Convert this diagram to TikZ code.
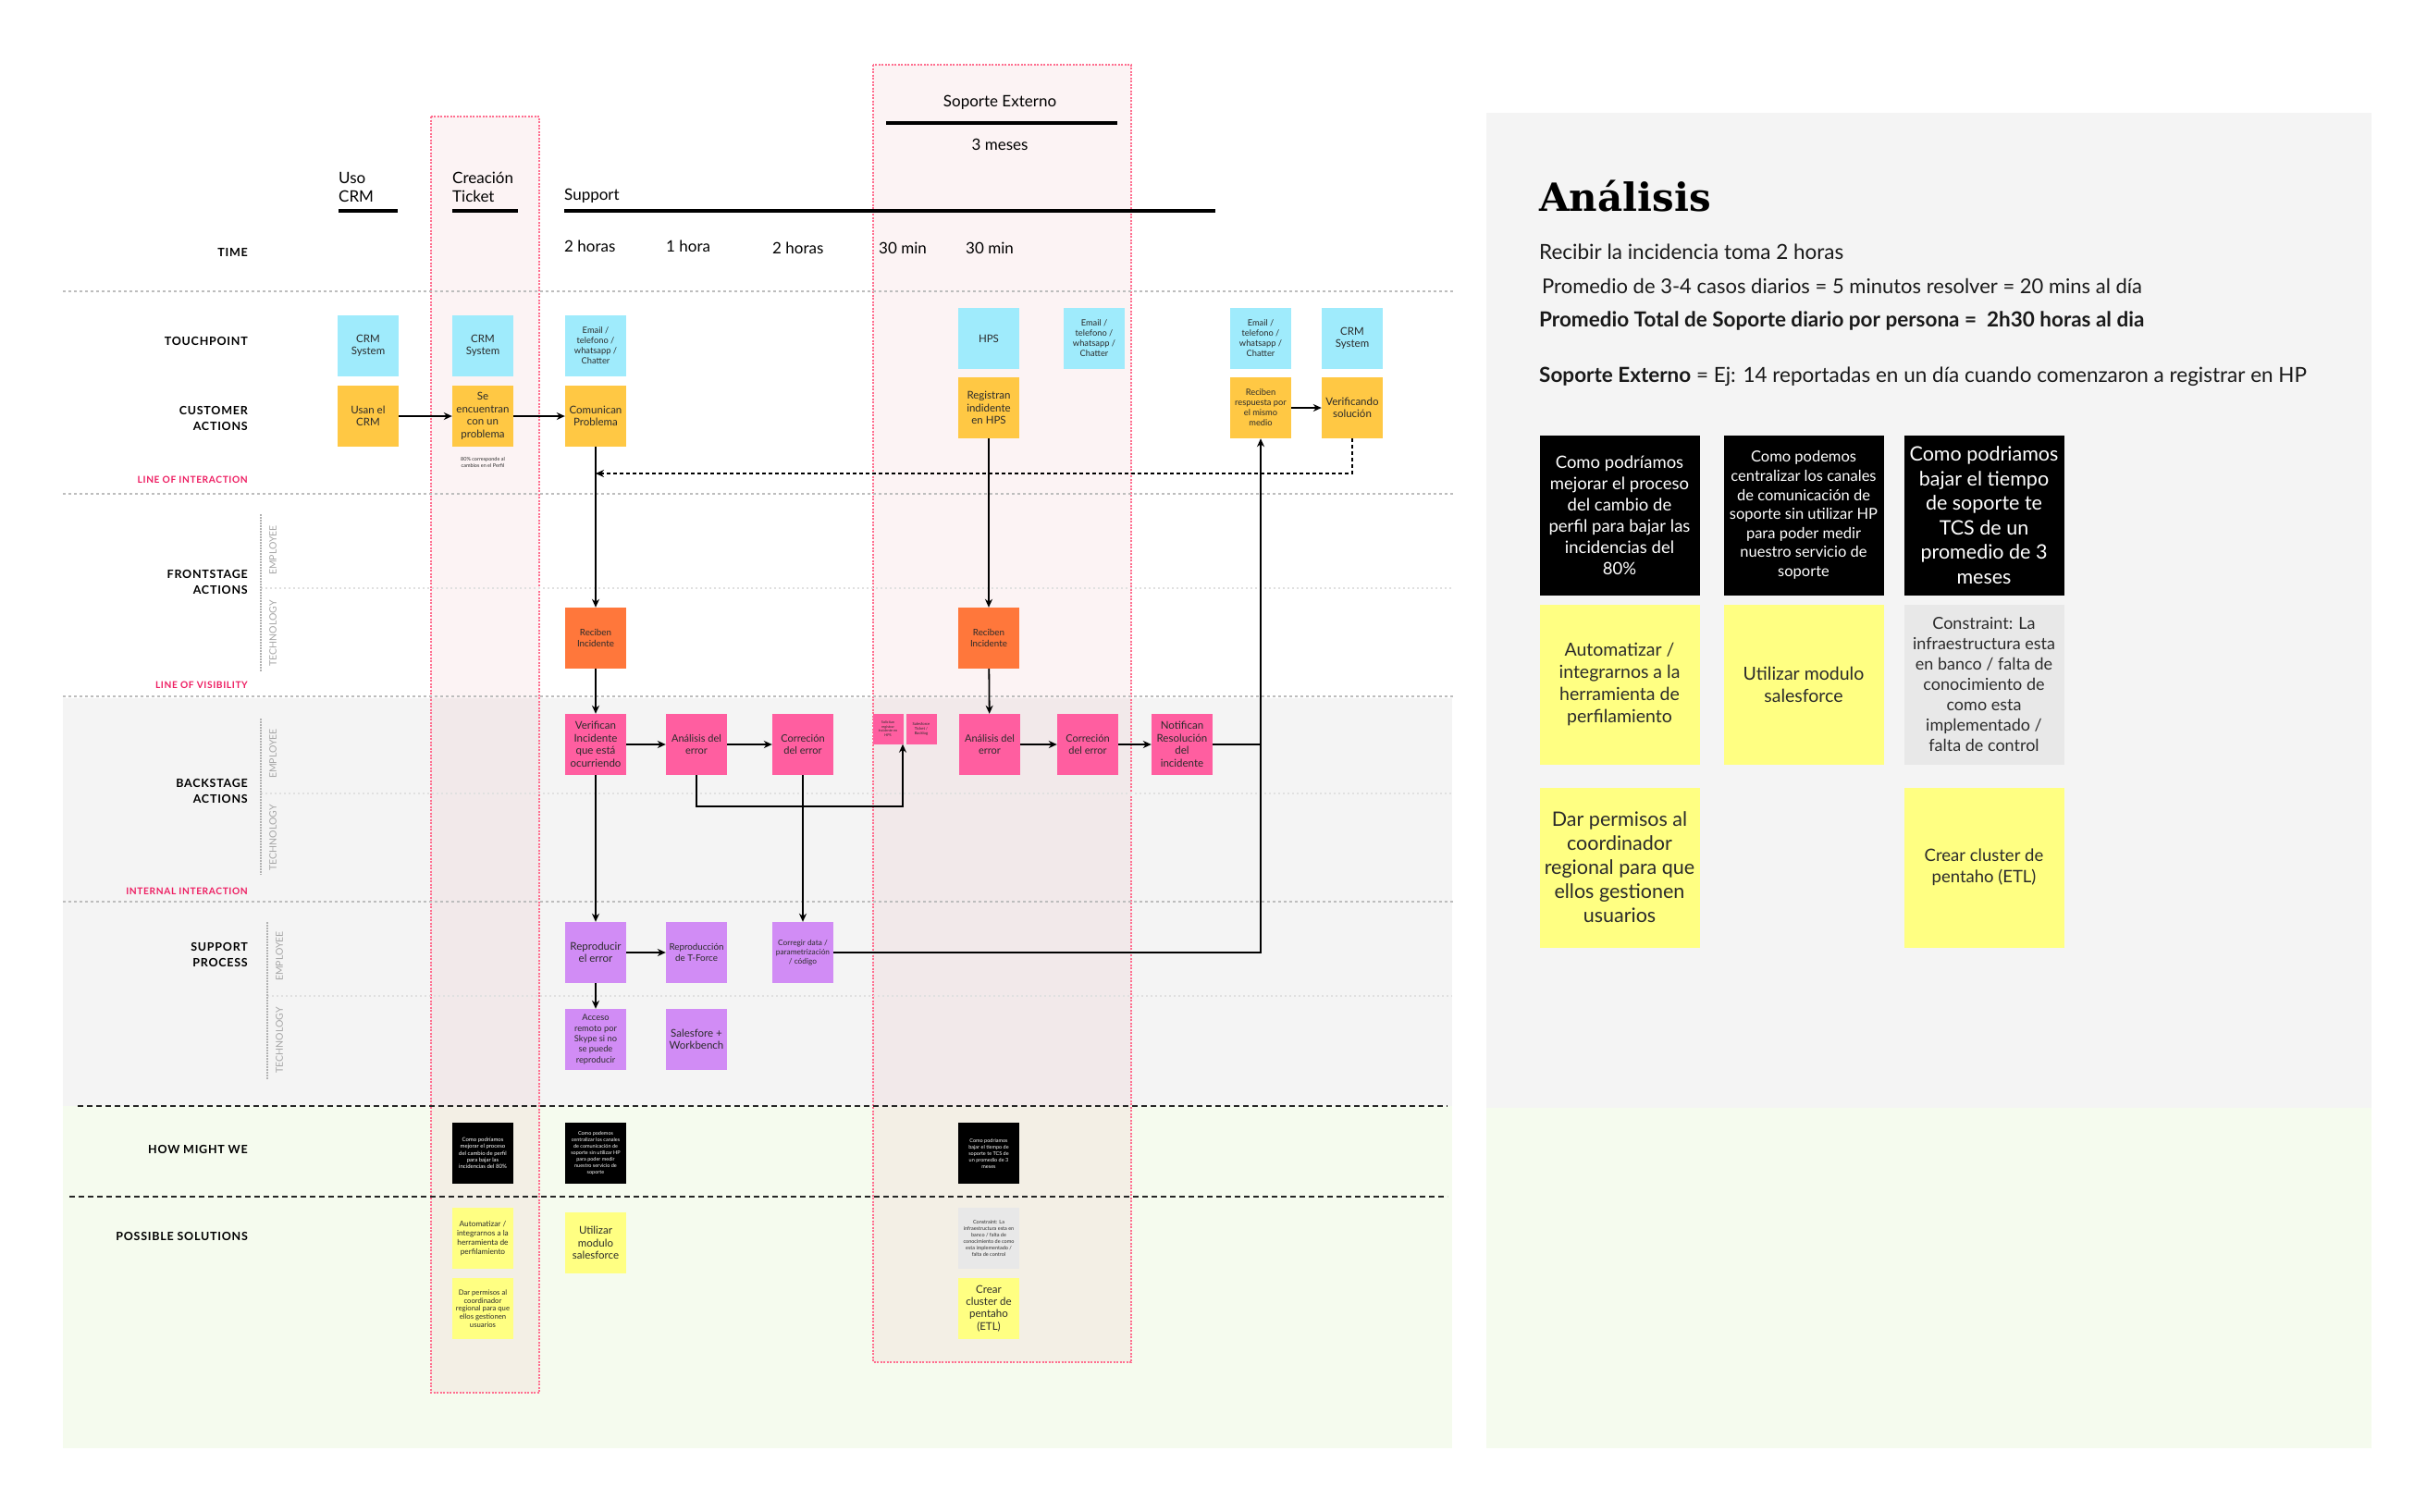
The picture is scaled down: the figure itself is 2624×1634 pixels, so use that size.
\documentclass[tikz,border=0pt]{standalone}
\usepackage{fontspec}
\setmainfont{Lato}
\newfontfamily\slabfont{DejaVu Serif}
\newfontfamily\lblfont[LetterSpace=6]{Lato}
\usetikzlibrary{arrows.meta,calc}
\definecolor{cyanc}{HTML}{9FEBFC}
\definecolor{orangec}{HTML}{FFC844}
\definecolor{redorc}{HTML}{FF773B}
\definecolor{pinkc}{HTML}{FF5EA0}
\definecolor{purpc}{HTML}{D18CF5}
\definecolor{yellc}{HTML}{FFFF82}
\definecolor{grayc}{HTML}{E8E8E8}
\definecolor{bggray}{HTML}{F4F4F4}
\definecolor{bggreen}{HTML}{F5FBEE}
\definecolor{pinkline}{HTML}{FF6E8F}
\definecolor{pinkfill}{HTML}{E8A0A8}
\definecolor{lblred}{HTML}{EE1E62}
\definecolor{txtc}{HTML}{2B2B2B}
\definecolor{lanegray}{HTML}{BDBDBD}
\newcommand\fz[2]{\fontsize{#1pt}{#2pt}\selectfont}
\tikzset{
  sticky/.style={minimum width=66pt, minimum height=66pt, inner sep=1pt, align=center, text=txtc},
  tp/.style={sticky, fill=cyanc},
  ca/.style={sticky, fill=orangec},
  fsb/.style={sticky, fill=redorc},
  bsb/.style={sticky, fill=pinkc},
  tinyb/.style={sticky, fill=pinkc, minimum width=33pt, minimum height=33pt, inner sep=0pt},
  spb/.style={sticky, fill=purpc},
  hmw/.style={sticky, fill=black, text=white},
  solb/.style={sticky, fill=yellc},
  conb/.style={sticky, fill=grayc},
  rbox/.style={minimum width=173pt, minimum height=173pt, inner sep=2pt, align=center, text=txtc},
  arr/.style={-{Stealth[length=9pt,width=8pt]}, line width=1.8pt, black},
  plain/.style={line width=1.8pt, black},
  hdr/.style={line width=4.5pt, black},
  lane/.style={lanegray, line width=1.5pt, dash pattern=on 3pt off 3pt},
  subl/.style={black!12, line width=1.2pt, dash pattern=on 2pt off 3pt},
  darkd/.style={black!85, line width=2.2pt, dash pattern=on 6pt off 4pt},
  colbox/.style={draw=pinkline, line width=1.3pt, dash pattern=on 2pt off 1.5pt, fill=pinkfill, fill opacity=0.12},
  lbl/.style={anchor=east, inner sep=0pt, align=right, font=\lblfont\bfseries\fz{12.5}{17}},
  lblp/.style={anchor=east, inner sep=0pt, text=lblred, font=\lblfont\bfseries\fz{10.2}{12}},
  rot/.style={rotate=90, inner sep=0pt, text=black!35, font=\fz{10.5}{12}},
  vdot/.style={black!30, line width=1.2pt, dash pattern=on 1.5pt off 1.5pt},
  hd/.style={inner sep=0pt, font=\fz{17}{20}},
  tm/.style={inner sep=0pt, anchor=west, font=\fz{17}{20}},
  rtxt/.style={anchor=west, inner sep=0pt, text=black!90, font=\fz{22.5}{26}}
}
\begin{document}
\begin{tikzpicture}[x=1pt,y=-1pt]
\useasboundingbox (0,0) rectangle (2624,1634);
\fill[white] (0,0) rectangle (2624,1634);
% backgrounds
\fill[bggray] (68,755) rectangle (1570,1196);
\fill[bggreen] (68,1196) rectangle (1570,1566);
\fill[bggray] (1607,122) rectangle (2564,1198);
\fill[bggreen] (1607,1198) rectangle (2564,1566);
% pink columns
\draw[colbox] (466,126) rectangle (583,1506);
\draw[colbox] (944,70) rectangle (1223,1473);
% lanes
\draw[lane] (68,315) -- (1573,315);
\draw[lane] (68,534) -- (1573,534);
\draw[lane] (68,753) -- (1573,753);
\draw[lane] (68,975) -- (1573,975);
\draw[subl] (282,636) -- (1570,636);
\draw[subl] (282,858) -- (1570,858);
\draw[subl] (289,1077) -- (1570,1077);
\draw[darkd] (84,1196) -- (1565,1196);
\draw[darkd] (75,1294) -- (1565,1294);
\draw[vdot] (282,556) -- (282,727);
\draw[vdot] (282,777) -- (282,946);
\draw[vdot] (289,997) -- (289,1168);
% left labels
\node[lbl] (lTime) at (268,273) {TIME};
\node[lbl] (lTouch) at (268,369) {TOUCHPOINT};
\node[lbl] (lCust) at (268,452) {CUSTOMER\\ACTIONS};
\node[lblp] (lLoi) at (268,519) {LINE OF INTERACTION};
\node[lbl] (lFront) at (268,629) {FRONTSTAGE\\ACTIONS};
\node[lblp] (lLov) at (268,741) {LINE OF VISIBILITY};
\node[lbl] (lBack) at (268,855) {BACKSTAGE\\ACTIONS};
\node[lblp] (lInt) at (268,964) {INTERNAL INTERACTION};
\node[lbl] (lSup) at (268,1032) {SUPPORT\\PROCESS};
\node[lbl] (lHmw) at (268,1243) {HOW MIGHT WE};
\node[lbl] (lSol) at (268,1337) {POSSIBLE SOLUTIONS};
\node[rot] (e1) at (295,595) {EMPLOYEE};
\node[rot] (t1) at (295,685) {TECHNOLOGY};
\node[rot] (e2) at (295,815) {EMPLOYEE};
\node[rot] (t2) at (295,906) {TECHNOLOGY};
\node[rot] (e3) at (302,1034) {EMPLOYEE};
\node[rot] (t3) at (302,1125) {TECHNOLOGY};
% header
\node[hd, anchor=west, align=left] (uso) at (366,202) {Uso\\CRM};
\draw[hdr] (366,228) -- (430,228);
\node[hd, anchor=west, align=left] (crea) at (489,202) {Creación\\Ticket};
\draw[hdr] (489,228) -- (560,228);
\node[hd, anchor=west] (supp) at (610,212) {Support};
\draw[hdr] (610,228) -- (1314,228);
\node[hd] (sopext) at (1081,111) {Soporte Externo};
\draw[hdr] (958,133) -- (1208,133);
\node[hd] (meses) at (1081,156) {3 meses};
\node[tm] (t2h) at (610,266) {2 horas};
\node[tm] (t1h) at (720,266) {1 hora};
\node[tm] (t2hb) at (835,268) {2 horas};
\node[tm] (t30a) at (950,268) {30 min};
\node[tm] (t30b) at (1044,268) {30 min};
% touchpoints
\node[tp, font=\fz{11.5}{13.5}] (tp1) at (398,374) {CRM\\System};
\node[tp, font=\fz{11.5}{13.5}] (tp2) at (522,374) {CRM\\System};
\node[tp, font=\fz{9.3}{11}] (tp3) at (644,374) {Email /\\telefono /\\whatsapp /\\Chatter};
\node[tp, font=\fz{11.5}{13.5}] (tp4) at (1069,366) {HPS};
\node[tp, font=\fz{9.3}{11}] (tp5) at (1183,366) {Email /\\telefono /\\whatsapp /\\Chatter};
\node[tp, font=\fz{9.3}{11}] (tp6) at (1363,366) {Email /\\telefono /\\whatsapp /\\Chatter};
\node[tp, font=\fz{11.5}{13.5}] (tp7) at (1462,366) {CRM\\System};
% customer actions
\node[ca, font=\fz{11.5}{13.5}] (ca1) at (398,450) {Usan el\\CRM};
\node[ca, font=\fz{11.5}{13.5}] (ca2) at (522,450) {Se\\encuentran\\con un\\problema};
\node[ca, font=\fz{11.5}{13.5}] (ca3) at (644,450) {Comunican\\Problema};
\node[ca, font=\fz{11.5}{13.5}] (ca4) at (1069,441) {Registran\\indidente\\en HPS};
\node[ca, font=\fz{9.3}{11}] (ca5) at (1363,441) {Reciben\\respuesta por\\el mismo\\medio};
\node[ca, font=\fz{11.5}{13.5}] (ca6) at (1462,441) {Verificando\\solución};
\node[inner sep=0pt, align=center, text=txtc, font=\fz{5.5}{7}] (note80) at (522,500) {80\% corresponde al\\cambios en el Perfil};
% frontstage
\node[fsb, font=\fz{9.8}{11.5}] (fs1) at (644,690) {Reciben\\Incidente};
\node[fsb, font=\fz{9.8}{11.5}] (fs2) at (1069,690) {Reciben\\Incidente};
% backstage
\node[bsb, font=\fz{11.5}{13.5}] (bs1) at (644,805) {Verifican\\Incidente\\que está\\ocurriendo};
\node[bsb, font=\fz{11}{13.5}] (bs2) at (753,805) {Análisis del\\error};
\node[bsb, font=\fz{11}{13.5}] (bs3) at (868,805) {Correción\\del error};
\node[tinyb, font=\fz{3.8}{4.6}] (bsn1) at (960,788) {Solicitan\\registrar\\incidente en\\HPS};
\node[tinyb, font=\fz{4.2}{5}] (bsn2) at (996,788) {Salesforce\\Ticket /\\Backlog};
\node[bsb, font=\fz{11}{13.5}] (bs4) at (1070,805) {Análisis del\\error};
\node[bsb, font=\fz{11}{13.5}] (bs5) at (1176,805) {Correción\\del error};
\node[bsb, font=\fz{11.5}{13.5}] (bs6) at (1278,805) {Notifican\\Resolución\\del\\incidente};
% support
\node[spb, font=\fz{11.5}{13.3}] (sp1) at (644,1030) {Reproducir\\el error};
\node[spb, font=\fz{9.8}{11.7}] (sp2) at (753,1030) {Reproducción\\de T-Force};
\node[spb, font=\fz{8.3}{10}] (sp3) at (868,1030) {Corregir data /\\parametrización\\/ código};
\node[spb, font=\fz{9.3}{11.3}] (st1) at (644,1124) {Acceso\\remoto por\\Skype si no\\se puede\\reproducir};
\node[spb, font=\fz{11.5}{13.3}] (st2) at (753,1124) {Salesfore +\\Workbench};
% how might we
\node[hmw, font=\fz{6}{7.3}] (h1) at (522,1247) {Como podríamos\\mejorar el proceso\\del cambio de perfil\\para bajar las\\incidencias del 80\%};
\node[hmw, font=\fz{5.5}{7}] (h2) at (644,1247) {Como podemos\\centralizar los canales\\de comunicación de\\soporte sin utilizar HP\\para poder medir\\nuestro servicio de\\soporte};
\node[hmw, font=\fz{5.5}{7}] (h3) at (1069,1247) {Como podriamos\\bajar el tiempo de\\soporte te TCS de\\un promedio de 3\\meses};
% possible solutions
\node[solb, font=\fz{8.3}{10}] (so1) at (522,1339) {Automatizar /\\integrarnos a la\\herramienta de\\perfilamiento};
\node[solb, font=\fz{7.7}{8.7}] (so2) at (522,1415) {Dar permisos al\\coordinador\\regional para que\\ellos gestionen\\usuarios};
\node[solb, font=\fz{11.5}{13.3}] (so3) at (644,1344) {Utilizar\\modulo\\salesforce};
\node[conb, font=\fz{5.5}{7}] (so4) at (1069,1339) {Constraint: La\\infraestructura esta en\\banco / falta de\\conocimiento de como\\esta implementado /\\falta de control};
\node[solb, font=\fz{11.5}{13.3}] (so5) at (1069,1415) {Crear\\cluster de\\pentaho\\(ETL)};
% connectors
\draw[arr] (ca1) -- (ca2);
\draw[arr] (ca2) -- (ca3);
\draw[arr] (ca5) -- (ca6);
\draw[arr] (ca3) -- (fs1);
\draw[arr] (ca4) -- (fs2);
\coordinate (dl) at (644,512);
\draw[arr, dash pattern=on 4pt off 3pt] (ca6.south) |- (dl);
\draw[arr] (fs1) -- (bs1);
\draw[arr] (fs2) -- (bs4);
\draw[arr] (bs1) -- (bs2);
\draw[arr] (bs2) -- (bs3);
\coordinate (jn1) at (976,872);
\draw[arr] (bs2.south) |- (jn1) -- (jn1 |- bsn1.south);
\draw[arr] (bs4) -- (bs5);
\draw[arr] (bs5) -- (bs6);
\coordinate (jn2) at (1364,805);
\draw[plain] (bs6) -- (jn2);
\draw[arr] (bs1) -- (sp1);
\draw[arr] (bs3) -- (sp3);
\draw[arr] (sp1) -- (sp2);
\draw[arr] (sp1) -- (st1);
\draw[arr] (sp3.east) -| (ca5.south);
% right panel
\node[anchor=base west, inner sep=0pt, font=\slabfont\bfseries\fz{42}{48}] (title) at (1664,228) {Análisis};
\node[rtxt] (r1) at (1664,272) {Recibir la incidencia toma 2 horas};
\node[rtxt, font=\fz{22}{26}] (r2) at (1667,309) {Promedio de 3-4 casos diarios = 5 minutos resolver = 20 mins al día};
\node[rtxt] (r3) at (1664,347) {\bfseries Promedio Total de Soporte diario por persona =\ \ 2h30 horas al dia};
\node[rtxt] (r4) at (1664,407) {\textbf{Soporte Externo} = Ej: 14 reportadas en un día cuando comenzaron a registrar en HP};
\node[rbox, fill=black, text=white, font=\fz{18.5}{23}] (rb1) at (1751,557) {Como podríamos\\mejorar el proceso\\del cambio de\\perfil para bajar las\\incidencias del\\80\%};
\node[rbox, fill=black, text=white, font=\fz{16.5}{20.6}] (rb2) at (1950,557) {Como podemos\\centralizar los canales\\de comunicación de\\soporte sin utilizar HP\\para poder medir\\nuestro servicio de\\soporte};
\node[rbox, fill=black, text=white, font=\fz{21.5}{26.5}] (rb3) at (2145,557) {Como podriamos\\bajar el tiempo\\de soporte te\\TCS de un\\promedio de 3\\meses};
\node[rbox, fill=yellc, font=\fz{19.5}{24}] (rs1) at (1751,740) {Automatizar /\\integrarnos a la\\herramienta de\\perfilamiento};
\node[rbox, fill=yellc, font=\fz{19.5}{24}] (rs2) at (1950,740) {Utilizar modulo\\salesforce};
\node[rbox, fill=grayc, font=\fz{18}{22}] (rs3) at (2145,740) {Constraint: La\\infraestructura esta\\en banco / falta de\\conocimiento de\\como esta\\implementado /\\falta de control};
\node[rbox, fill=yellc, font=\fz{21.5}{26}] (rs4) at (1751,938) {Dar permisos al\\coordinador\\regional para que\\ellos gestionen\\usuarios};
\node[rbox, fill=yellc, font=\fz{18.5}{22.5}] (rs5) at (2145,938) {Crear cluster de\\pentaho (ETL)};
\end{tikzpicture}
\end{document}
